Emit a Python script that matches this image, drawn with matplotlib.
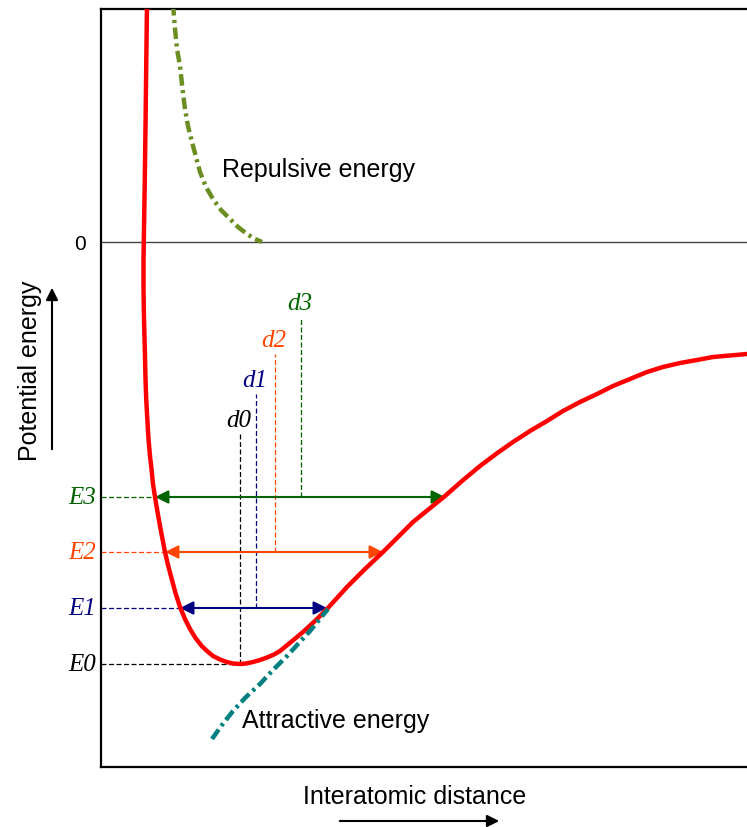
import matplotlib
matplotlib.use('Agg')
import matplotlib.pyplot as plt
from matplotlib.patches import FancyArrowPatch

# Потенціальна крива (r, E): ліва гілка, мінімум, права гілка
pot_r = [0.46, 0.453, 0.446, 0.438, 0.43, 0.425, 0.425, 0.43, 0.438, 0.445,
         0.452, 0.463, 0.475, 0.49, 0.505, 0.52, 0.54, 0.565, 0.59, 0.615,
         0.64, 0.67, 0.707, 0.745, 0.79, 0.84, 0.89, 0.945, 1.007, 1.06,
         1.12, 1.19, 1.257, 1.32, 1.39, 1.45, 1.52, 1.59, 1.66, 1.73,
         1.79, 1.90, 2.02, 2.14, 2.26, 2.36, 2.46, 2.64, 2.82, 2.97,
         3.12, 3.28, 3.44, 3.61, 3.79, 3.95, 4.12, 4.29, 4.46, 4.62,
         4.79, 4.96, 5.12, 5.29, 5.46, 5.62, 5.79, 5.96, 6.12, 6.29, 6.46]
pot_E = [2.38, 1.83, 1.23, 0.63, 0.13, -0.17, -0.47, -0.77, -1.07, -1.37,
         -1.57, -1.77, -1.97, -2.14, -2.27, -2.42, -2.55, -2.70, -2.84, -2.97,
         -3.10, -3.23, -3.37, -3.51, -3.65, -3.77, -3.87, -3.96, -4.04, -4.09,
         -4.14, -4.175, -4.20, -4.215, -4.22, -4.215, -4.20, -4.18, -4.155, -4.125,
         -4.09, -4.00, -3.90, -3.79, -3.67, -3.56, -3.45, -3.27, -3.10, -2.95,
         -2.80, -2.67, -2.54, -2.39, -2.24, -2.12, -2.00, -1.89, -1.79, -1.69,
         -1.60, -1.52, -1.44, -1.37, -1.30, -1.25, -1.21, -1.18, -1.15, -1.135, -1.12]

# Енергія відштовхування
rep_r = [0.72, 0.74, 0.76, 0.79, 0.815, 0.84, 0.87, 0.91, 0.95, 0.99,
         1.05, 1.12, 1.20, 1.29, 1.37, 1.46, 1.54, 1.61]
rep_E = [2.38, 2.13, 1.93, 1.76, 1.53, 1.33, 1.16, 1.00, 0.85, 0.70,
         0.55, 0.43, 0.32, 0.23, 0.15, 0.08, 0.03, 0.0]

# Енергія притягання
att_r = [1.11, 1.21, 1.32, 1.45, 1.59, 1.72, 1.86, 1.97, 2.09, 2.18, 2.27]
att_E = [-4.97, -4.83, -4.69, -4.55, -4.42, -4.28, -4.14, -4.02, -3.89, -3.78, -3.67]

# Рівні енергії та міжатомні відстані
levels = ["E0", "E1", "E2", "E3"]
level_E = [-4.22, -3.66, -3.10, -2.55]
left_r = [1.39, 0.79, 0.64, 0.54]
right_r = [1.39, 2.26, 2.82, 3.44]
dists = ["d0", "d1", "d2", "d3"]
dist_r = [1.39, 1.55, 1.74, 2.00]
dist_top = [-1.92, -1.52, -1.12, -0.75]
colors = ["black", "navy", "orangered", "darkgreen"]

W, H = 747, 828
fig = plt.figure(figsize=(W / 100, H / 100), dpi=100)
ax = fig.add_axes([101 / W, 60 / H, 646 / W, 758 / H])
ax.set_xlim(0, 6.46)
ax.set_ylim(-5.25, 2.33)

ax.axhline(0, color="#444444", lw=1.0, zorder=1)

ax.plot(pot_r, pot_E, color="red", lw=3.2, zorder=3)
ax.plot(rep_r, rep_E, color="olivedrab", lw=3.2, zorder=3,
        linestyle=(0, (2.6, 1, 0.7, 1)))
ax.plot(att_r, att_E, color="teal", lw=3.2, zorder=4,
        linestyle=(0, (2.6, 1, 0.7, 1)))

serif = dict(family="Liberation Serif", style="italic", fontsize=18)

for i in range(4):
    c = colors[i]
    E = level_E[i]
    # пунктир від осі до кривої
    ax.plot([0, left_r[i]], [E, E], color=c, lw=0.9, ls=(0, (4, 2)), zorder=2)
    # вертикаль до позначки d
    ax.plot([dist_r[i], dist_r[i]], [E, dist_top[i]], color=c, lw=0.9,
            ls=(0, (4, 2)), zorder=2)
    if right_r[i] > left_r[i]:
        ax.annotate("", xy=(right_r[i], E), xytext=(left_r[i], E),
                    arrowprops=dict(arrowstyle="<|-|>", color=c, lw=1.5,
                                    mutation_scale=20, shrinkA=0, shrinkB=0),
                    zorder=2)
    ax.text(-0.05, E, levels[i], color=c, ha="right", va="center",
            clip_on=False, **serif)
    ax.text(dist_r[i] - 0.01, dist_top[i] + 0.14, dists[i], color=c,
            ha="center", va="center", **serif)

sans = dict(family="Liberation Sans", fontsize=18)
ax.text(1.21, 0.73, "Repulsive energy", ha="left", va="center", **sans)
ax.text(1.41, -4.78, "Attractive energy", ha="left", va="center", **sans)

ax.set_xticks([])
ax.set_yticks([0])
ax.set_yticklabels(["0"], family="Liberation Sans", fontsize=15)
ax.tick_params(axis="y", length=0, pad=11)

for s in ["left", "top", "bottom"]:
    ax.spines[s].set_linewidth(1.6)
ax.spines["right"].set_visible(False)

# Підписи осей зі стрілками
fig.text(30 / W, 1 - 371 / H, "Potential energy", rotation=90,
         ha="center", va="center", **sans)
fig.text(415 / W, 1 - 797 / H, "Interatomic distance",
         ha="center", va="center", **sans)
fig.add_artist(FancyArrowPatch(
    (52 / W, 1 - 453 / H), (52 / W, 1 - 286 / H), transform=fig.transFigure,
    arrowstyle="-|>", mutation_scale=18, lw=1.5, color="black"))
fig.add_artist(FancyArrowPatch(
    (337 / W, 1 - 822 / H), (502 / W, 1 - 822 / H), transform=fig.transFigure,
    arrowstyle="-|>", mutation_scale=18, lw=1.5, color="black"))

fig.savefig("out.png", dpi=100)
